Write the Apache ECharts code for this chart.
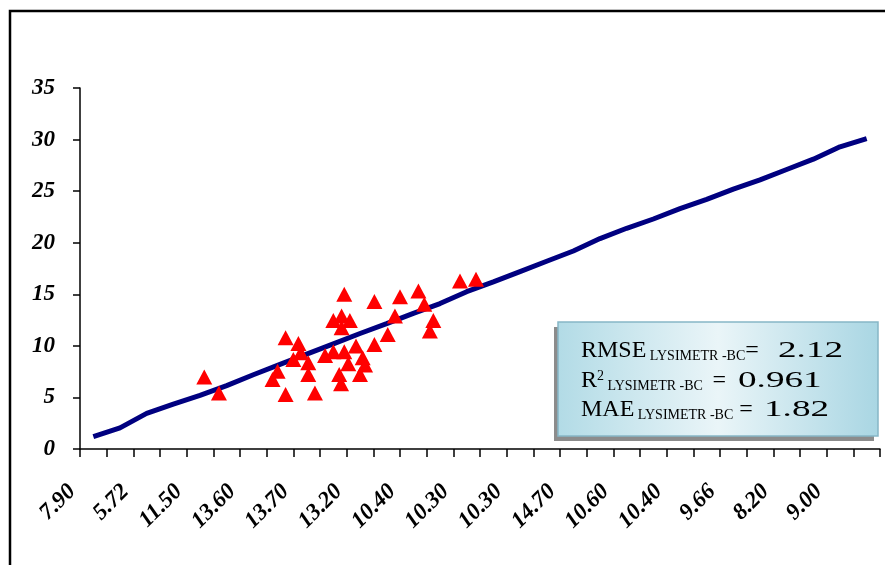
<!DOCTYPE html>
<html>
<head>
<meta charset="utf-8">
<script src="https://cdn.jsdelivr.net/npm/echarts@6/dist/echarts.min.js"></script>
<style>
  html, body { margin: 0; padding: 0; background: #fff; }
  #main { width: 885px; height: 565px; }
</style>
</head>
<body>
<div id="main"></div>
<script>
// tick labels shown under every other category
var xLabels = ['7.90', '5.72', '11.50', '13.60', '13.70', '13.20', '10.40', '10.30',
    '10.30', '14.70', '10.60', '10.40', '9.66', '8.20', '9.00'];

// line values, one per category (30 categories)
var lineValues = [1.2, 2.05, 3.45, 4.35, 5.2, 6.15, 7.2, 8.2, 9.2, 10.2,
    11.2, 12.15, 13.15, 14.1, 15.25, 16.2, 17.2, 18.2, 19.2, 20.4,
    21.4, 22.3, 23.3, 24.2, 25.2, 26.1, 27.1, 28.1, 29.3, 30.1];

// scatter points: position along the category span (0..30) and value
var pointX = [4.66, 5.21, 7.71, 8.19, 7.41, 7.22, 7.71, 8.0, 8.28, 8.56,
    8.56, 8.81, 9.19, 9.5, 9.91, 9.5, 9.81, 10.12, 9.81, 9.91,
    9.72, 9.79, 10.06, 10.35, 10.6, 10.69, 10.5, 11.04, 11.04, 11.54,
    11.81, 12.0, 12.69, 12.91, 13.25, 13.12, 14.25, 14.85];
var pointY = [6.97, 5.44, 10.79, 10.24, 7.55, 6.74, 5.28, 8.68, 9.33, 8.36,
    7.23, 5.44, 9.07, 9.43, 15.0, 12.47, 12.9, 12.47, 11.76, 9.43,
    7.23, 6.32, 8.26, 9.98, 8.85, 8.14, 7.23, 14.29, 10.14, 11.11,
    12.9, 14.75, 15.33, 14.03, 12.47, 11.44, 16.3, 16.46];

// text box: metric names and values
var statNames = ['RMSE', 'R', 'MAE'];
var statSubscript = 'LYSIMETR -BC';
var statValues = ['2.12', '0.961', '1.82'];

var categories = [];
for (var i = 0; i < lineValues.length; i++) {
    categories.push(i % 2 === 0 ? xLabels[i / 2] : '');
}
var points = pointX.map(function (x, k) { return [x, pointY[k]]; });

var serif = "'Liberation Serif', 'Times New Roman', serif";
var axisFont = {
    fontFamily: serif, fontWeight: 'bold', fontStyle: 'italic',
    fontSize: 23, color: '#000'
};
var rich = {
    a: { fontFamily: serif, fontSize: 24, lineHeight: 28, color: '#000', verticalAlign: 'bottom' },
    s: { fontFamily: serif, fontSize: 14, lineHeight: 16, color: '#000', verticalAlign: 'bottom' },
    p: { fontFamily: serif, fontSize: 14, lineHeight: 16, color: '#000', verticalAlign: 'top', padding: [4, 0, 0, 0] }
};

// box label parts (name + subscript + '=') and the wide value text
var boxText = [
    { y: 335, text: '{a|' + statNames[0] + '}{s| ' + statSubscript + '}{a|=}', vx: 778 },
    { y: 365, text: '{a|' + statNames[1] + '}{p|2}{s| ' + statSubscript + ' }{a| =}', vx: 738 },
    { y: 394, text: '{a|' + statNames[2] + '}{s| ' + statSubscript + '}{a| =}', vx: 764 }
];
var boxGraphics = [];
boxText.forEach(function (b, k) {
    boxGraphics.push({
        type: 'text', x: 581, y: b.y, z: 12,
        style: { text: b.text, rich: rich }
    });
    boxGraphics.push({
        type: 'text', x: b.vx, y: b.y, z: 12, scaleX: 1.55,
        style: { text: '{a|' + statValues[k] + '}', rich: rich }
    });
});

var myChart = echarts.init(document.getElementById('main'));
var option = {
    animation: false,
    grid: { left: 80, right: 5, top: 88, bottom: 116, outerBoundsMode: 'none' },
    xAxis: [{
        type: 'category',
        data: categories,
        boundaryGap: true,
        axisLine: { show: true, lineStyle: { color: '#000', width: 1.5 } },
        axisTick: { show: true, interval: 0, length: 8, lineStyle: { color: '#000', width: 1.5 } },
        axisLabel: Object.assign({
            interval: 1, rotate: 45, margin: 18, padding: [0, 30, 0, 0]
        }, axisFont),
        splitLine: { show: false }
    }, {
        type: 'value', min: 0, max: 30, show: false
    }],
    yAxis: {
        type: 'value', min: 0, max: 35, interval: 5,
        axisLine: { show: true, lineStyle: { color: '#000', width: 1.5 } },
        axisTick: { show: true, length: 7, lineStyle: { color: '#000', width: 1.5 } },
        axisLabel: Object.assign({ margin: 25 }, axisFont),
        splitLine: { show: false }
    },
    series: [{
        type: 'line',
        xAxisIndex: 0,
        data: lineValues,
        showSymbol: false,
        lineStyle: { color: '#000080', width: 5 },
        z: 2
    }, {
        type: 'scatter',
        xAxisIndex: 1,
        data: points,
        symbol: 'triangle',
        symbolSize: [16, 15],
        itemStyle: { color: '#ff0000', opacity: 1 },
        z: 3
    }],
    graphic: [{
        // outer frame, open on the right and bottom
        type: 'rect',
        shape: { x: 10, y: 11, width: 900, height: 600 },
        style: { fill: 'transparent', stroke: '#000', lineWidth: 2.5 },
        silent: true,
        z: 20
    }, {
        type: 'rect',
        shape: { x: 554, y: 327, width: 320, height: 114 },
        style: { fill: '#8c8c8c' },
        z: 10
    }, {
        type: 'rect',
        shape: { x: 558, y: 322, width: 320, height: 114 },
        style: {
            fill: new echarts.graphic.LinearGradient(0, 0, 1, 0, [
                { offset: 0, color: '#b2dbe6' },
                { offset: 0.5, color: '#eaf5f8' },
                { offset: 1, color: '#a9d6e3' }
            ]),
            stroke: '#86b6c6', lineWidth: 1.5
        },
        z: 11
    }].concat(boxGraphics)
};
myChart.setOption(option);
</script>
</body>
</html>
